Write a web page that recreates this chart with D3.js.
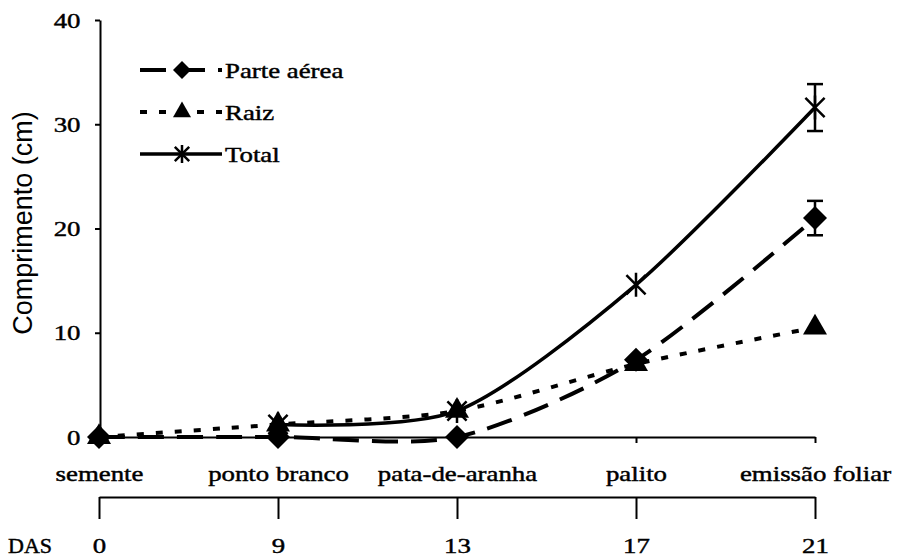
<!DOCTYPE html>
<html>
<head>
<meta charset="utf-8">
<title>Comprimento - Parte aérea, Raiz e Total</title>
<script src="https://d3js.org/d3.v7.min.js"></script>
<style>
    body { margin: 0; background: #fff; }
    svg { display: block; }
    .serif { font-family: "Liberation Serif", "Times New Roman", serif; font-size: 22px; fill: #000; stroke: #000; stroke-width: 0.45px; }
    .axis path, .axis line { stroke: #000; stroke-width: 2px; }
</style>
</head>
<body>
<div id="chart"></div>
<script>
// data
const stages = ["semente", "ponto branco", "pata-de-aranha", "palito", "emissão foliar"];
const das = [0, 9, 13, 17, 21];
const parteAerea = [0, 0, 0, 7.4, 21.0];
const raiz = [0, 1.2, 2.5, 7.0, 10.5];
const total = [null, 1.2, 2.5, 14.6, 31.6];
const parteErr = [0, 0, 0, 0, 1.65];
const totalErr = [0, 0, 0, 0, 2.25];
const yTicks = [0, 10, 20, 30, 40];

const width = 897, height = 559;
const stretch = "scale(1.22,1)"; // the scanned type is wider than it is tall

const svg = d3.select("#chart").append("svg")
    .attr("width", width)
    .attr("height", height);

const x = d3.scalePoint().domain(stages).range([99, 815]);
const y = d3.scaleLinear().domain([0, 40]).range([437, 20]);

// --- axes ---
svg.append("g")
    .attr("class", "axis")
    .attr("transform", "translate(100,0)")
    .call(d3.axisLeft(y).tickValues(yTicks).tickSize(5).tickSizeOuter(0).tickPadding(11));

svg.append("g")
    .attr("class", "axis")
    .attr("transform", "translate(0,437)")
    .call(d3.axisBottom(x).tickSize(6).tickSizeOuter(0).tickPadding(22));

svg.append("g")
    .attr("class", "axis")
    .attr("transform", "translate(0,497)")
    .call(d3.axisBottom(x).tickSize(22).tickSizeOuter(0).tickPadding(18)
        .tickFormat((d, i) => das[i]));

svg.selectAll(".axis text")
    .attr("class", "serif")
    .attr("font-family", null)
    .attr("font-size", null)
    .attr("transform", stretch);

svg.append("text")
    .attr("class", "serif")
    .attr("x", 8)
    .attr("y", 553)
    .text("DAS");

svg.append("text")
    .attr("transform", "translate(32,223) rotate(-90)")
    .attr("text-anchor", "middle")
    .style("font-family", "'Liberation Sans', Arial, sans-serif")
    .style("font-size", "27px")
    .text("Comprimento (cm)");

// --- series ---
const series = [
    { name: "Parte aérea", values: parteAerea, err: parteErr, dash: "26,13", shape: "diamond" },
    { name: "Raiz", values: raiz, err: null, dash: "7,12", shape: "triangle" },
    { name: "Total", values: total, err: totalErr, dash: null, shape: "star" }
];

const line = d3.line()
    .defined(d => d.v != null)
    .x(d => x(d.s))
    .y(d => y(d.v))
    .curve(d3.curveCardinal.tension(0.2));

const pts = s => s.values.map((v, i) => ({ s: stages[i], v: v, e: s.err ? s.err[i] : 0 }));

svg.selectAll(".series")
    .data(series)
    .enter().append("path")
    .attr("class", "series")
    .attr("d", d => line(pts(d)))
    .attr("fill", "none")
    .attr("stroke", "#000")
    .attr("stroke-width", d => d.shape === "star" ? 3.5 : 4)
    .attr("stroke-dasharray", d => d.dash);

// marker drawing
function marker(g, shape, size) {
    if (shape === "diamond") {
        g.append("path")
            .attr("d", d3.symbol(d3.symbolSquare, size * size / 2)())
            .attr("transform", "rotate(45)")
            .attr("fill", "#000");
    } else if (shape === "triangle") {
        g.append("path")
            .attr("d", d3.symbol(d3.symbolTriangle, Math.sqrt(3) / 4 * size * size)())
            .attr("fill", "#000");
    } else {
        const r = size / 2;
        g.append("path")
            .attr("d", `M0,${-r}V${r}M${-r * 0.8},${-r * 0.8}L${r * 0.8},${r * 0.8}M${-r * 0.8},${r * 0.8}L${r * 0.8},${-r * 0.8}`)
            .attr("stroke", "#000")
            .attr("stroke-width", 2.5)
            .attr("fill", "none");
    }
}

// draw order: diamonds, stars, triangles (triangles sit on top in the figure)
["diamond", "star", "triangle"].forEach(shape => {
    const s = series.find(d => d.shape === shape);
    pts(s).filter(d => d.v != null).forEach(d => {
        const g = svg.append("g").attr("transform", `translate(${x(d.s)},${y(d.v)})`);
        marker(g, shape, 24);
    });
});

// error bars
series.filter(s => s.err).forEach(s => {
    pts(s).filter(d => d.e > 0).forEach(d => {
        const cx = x(d.s), y0 = y(d.v - d.e), y1 = y(d.v + d.e);
        const g = svg.append("g").attr("stroke", "#000").attr("stroke-width", 2.5);
        g.append("line").attr("x1", cx).attr("x2", cx).attr("y1", y0).attr("y2", y1);
        g.append("line").attr("x1", cx - 8).attr("x2", cx + 8).attr("y1", y0).attr("y2", y0);
        g.append("line").attr("x1", cx - 8).attr("x2", cx + 8).attr("y1", y1).attr("y2", y1);
    });
});

// --- legend ---
const legend = svg.selectAll(".legend")
    .data(series)
    .enter().append("g")
    .attr("class", "legend")
    .attr("transform", (d, i) => `translate(140,${70 + i * 42})`);

legend.append("line")
    .attr("x1", 0).attr("x2", 82)
    .attr("stroke", "#000")
    .attr("stroke-width", d => d.shape === "star" ? 3.5 : 4)
    .attr("stroke-dasharray", d => d.dash);

legend.each(function(d) {
    const g = d3.select(this).append("g").attr("transform", "translate(42,0)");
    marker(g, d.shape, 18);
});

legend.append("text")
    .attr("class", "serif")
    .attr("transform", "translate(85,8) " + stretch)
    .text(d => d.name);
</script>
</body>
</html>
